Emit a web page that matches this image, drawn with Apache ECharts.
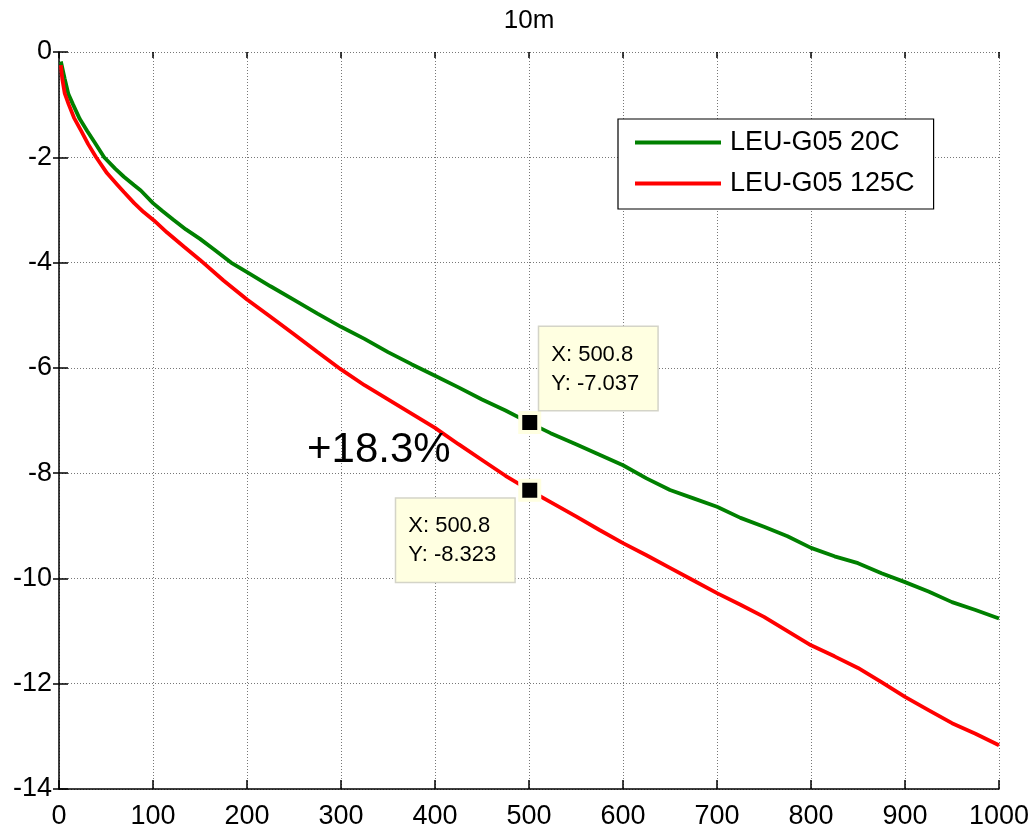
<!DOCTYPE html>
<html>
<head>
<meta charset="utf-8">
<script src="https://cdn.jsdelivr.net/npm/echarts@6/dist/echarts.min.js"></script>
<style>
html,body{margin:0;padding:0;background:#fff;}
#chart{width:1030px;height:827px;}
</style>
</head>
<body>
<div id="chart"></div>
<script>
var titleText = '10m';
var seriesNames = ['LEU-G05 20C', 'LEU-G05 125C'];

var greenX = [2, 6, 10, 15, 22, 30, 38, 48, 60, 69, 80, 87, 100, 110, 122, 135, 150, 165, 183, 200, 225, 250, 275, 300, 325, 350, 375, 400, 425, 450, 475, 500, 523, 550, 575, 600, 625, 650, 675, 700, 725, 750, 775, 800, 825, 850, 875, 900, 925, 950, 975, 1000];
var greenY = [-0.18, -0.5, -0.8, -1.0, -1.27, -1.5, -1.72, -2.0, -2.22, -2.37, -2.53, -2.63, -2.87, -3.02, -3.19, -3.37, -3.55, -3.75, -4.0, -4.18, -4.45, -4.71, -4.97, -5.22, -5.45, -5.7, -5.93, -6.15, -6.37, -6.6, -6.81, -7.04, -7.24, -7.45, -7.65, -7.85, -8.1, -8.32, -8.48, -8.64, -8.85, -9.02, -9.2, -9.42, -9.58, -9.71, -9.9, -10.07, -10.25, -10.45, -10.6, -10.76];

var redX = [2, 3.4, 6, 10.4, 16, 23.6, 31, 39.5, 51, 62, 69, 80, 90, 101, 115, 133, 150, 175, 200, 225, 250, 275, 300, 325, 350, 375, 400, 425, 450, 475, 500, 523, 550, 575, 600, 625, 650, 675, 700, 725, 750, 775, 800, 825, 850, 875, 900, 925, 950, 975, 1000];
var redY = [-0.25, -0.5, -0.78, -1.0, -1.25, -1.5, -1.75, -2.0, -2.3, -2.52, -2.66, -2.87, -3.04, -3.2, -3.43, -3.7, -3.95, -4.34, -4.7, -5.03, -5.36, -5.7, -6.03, -6.33, -6.6, -6.87, -7.14, -7.45, -7.75, -8.05, -8.32, -8.55, -8.82, -9.08, -9.33, -9.56, -9.8, -10.04, -10.28, -10.5, -10.73, -11.0, -11.27, -11.48, -11.7, -11.97, -12.25, -12.5, -12.75, -12.95, -13.17];

var tipX = [500.8, 500.8];
var tipY = [-7.037, -8.323];
var annotationText = '+18.3%';

var xTicks = [0, 100, 200, 300, 400, 500, 600, 700, 800, 900, 1000];
var yTicks = [0, -2, -4, -6, -8, -10, -12, -14];

function pairs(xs, ys) {
  var out = [];
  for (var i = 0; i < xs.length; i++) out.push([xs[i], ys[i]]);
  return out;
}

var FONT = '"Liberation Sans", Arial, Helvetica, sans-serif';
var chart = echarts.init(document.getElementById('chart'), null, {renderer: 'canvas'});

var gridLine = {show: true, lineStyle: {color: '#777', width: 1, type: [1, 2]}};

var tipLabelBase = {
  show: true,
  color: '#000',
  fontFamily: FONT,
  fontSize: 22,
  lineHeight: 29,
  backgroundColor: '#ffffe1',
  borderColor: '#d4d4c8',
  borderWidth: 1.5,
  padding: [13, 18, 12, 12],
  align: 'left',
  verticalAlign: 'top',
  formatter: function (p) { return 'X: ' + p.value[0] + '\nY: ' + p.value[1]; }
};

var tipData = [
  {value: [tipX[0], tipY[0]], label: Object.assign({}, tipLabelBase, {position: [21, -84]})},
  {value: [tipX[1], tipY[1]], label: Object.assign({}, tipLabelBase, {position: [-122, 20]})}
];

var option = {
  animation: false,
  backgroundColor: '#fff',
  textStyle: {fontFamily: FONT},
  title: {
    text: titleText,
    left: 529,
    textAlign: 'center',
    top: 8,
    padding: 0,
    textStyle: {fontFamily: FONT, fontSize: 26, fontWeight: 'normal', color: '#000'}
  },
  grid: {left: 59, right: 31, top: 52, bottom: 38, containLabel: false, outerBoundsMode: 'none'},
  legend: {
    orient: 'vertical',
    left: 618,
    top: 119,
    data: seriesNames,
    icon: 'rect',
    itemWidth: 86,
    itemHeight: 4,
    itemGap: 14,
    padding: [10, 19, 12, 17],
    backgroundColor: '#fff',
    borderColor: '#000',
    borderWidth: 1.2,
    textStyle: {fontFamily: FONT, fontSize: 27, color: '#000', padding: [0, 0, 0, 4]},
    z: 10
  },
  xAxis: [{
    type: 'value', min: 0, max: 1000, interval: 100,
    axisLine: {show: true, onZero: false, lineStyle: {color: '#000', width: 1.5}},
    axisTick: {show: true, inside: true, length: 9, lineStyle: {color: '#000', width: 1.5}},
    axisLabel: {color: '#000', fontFamily: FONT, fontSize: 27, margin: 14,
      formatter: function (v) { return xTicks.indexOf(v) >= 0 ? String(v) : ''; }},
    splitLine: gridLine
  }, {
    type: 'value', min: 0, max: 1000, interval: 100, position: 'top',
    axisLine: {show: false},
    axisTick: {show: true, inside: true, length: 6, lineStyle: {color: '#000', width: 1.5}},
    axisLabel: {show: false},
    splitLine: {show: false}
  }],
  yAxis: [{
    type: 'value', min: -14, max: 0, interval: 2,
    axisLine: {show: true, onZero: false, lineStyle: {color: '#000', width: 1.5}},
    axisTick: {show: true, inside: true, length: 9, lineStyle: {color: '#000', width: 1.5}},
    axisLabel: {color: '#000', fontFamily: FONT, fontSize: 27, margin: 7, padding: [5, 0, 0, 0],
      formatter: function (v) { return yTicks.indexOf(v) >= 0 ? String(v) : ''; }},
    splitLine: gridLine
  }, {
    type: 'value', min: -14, max: 0, interval: 2, position: 'right',
    axisLine: {show: false},
    axisTick: {show: true, inside: true, length: 6, lineStyle: {color: '#000', width: 1.5}},
    axisLabel: {show: false},
    splitLine: {show: false}
  }],
  series: [
    {
      name: seriesNames[0], type: 'line', xAxisIndex: 0, yAxisIndex: 0,
      data: pairs(greenX, greenY), showSymbol: false, symbol: 'none',
      lineStyle: {color: '#008000', width: 3.8}, itemStyle: {color: '#008000'}, z: 3
    },
    {
      name: seriesNames[1], type: 'line', xAxisIndex: 0, yAxisIndex: 0,
      data: pairs(redX, redY), showSymbol: false, symbol: 'none',
      lineStyle: {color: '#ff0000', width: 3.8}, itemStyle: {color: '#ff0000'}, z: 3
    },
    {
      name: 'datatips', type: 'scatter', xAxisIndex: 0, yAxisIndex: 0,
      data: tipData, symbol: 'rect', symbolSize: 19,
      itemStyle: {color: '#000', borderColor: '#ffffe1', borderWidth: 4, opacity: 1},
      z: 6
    }
  ],
  graphic: [{
    type: 'text',
    left: 307,
    top: 429,
    z: 20,
    style: {text: annotationText, font: '42px ' + FONT, fill: '#000'}
  }]
};
chart.setOption(option);
</script>
</body>
</html>
